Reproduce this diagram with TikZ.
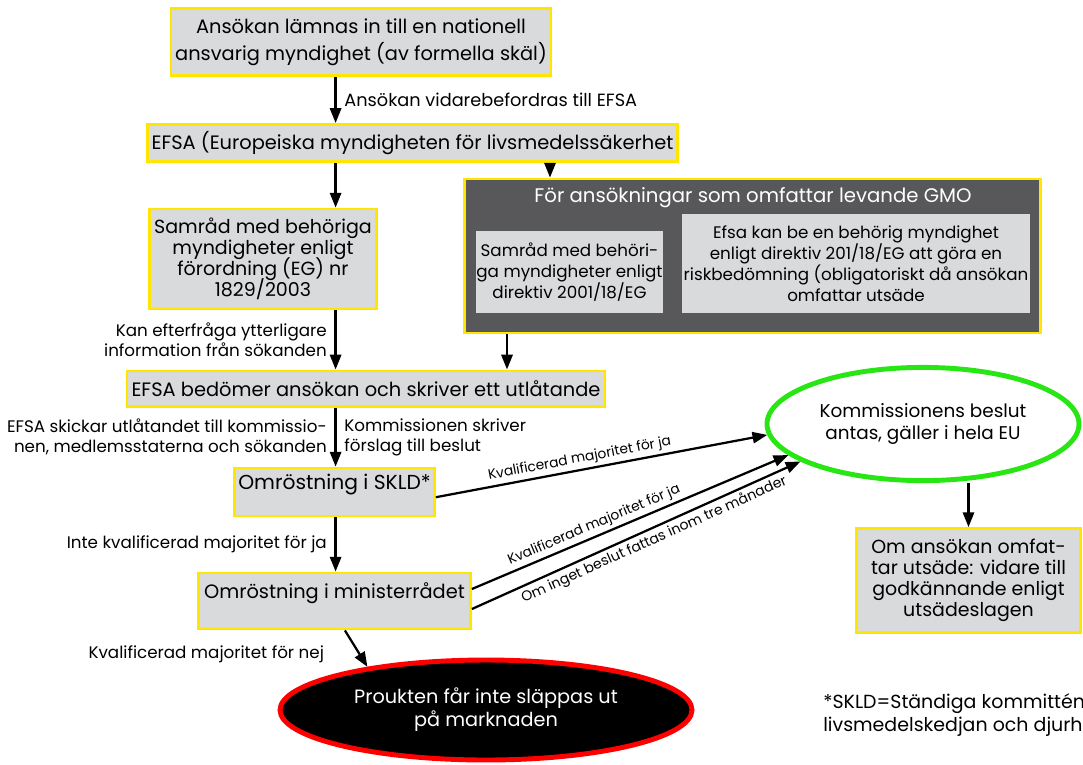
\documentclass[tikz,border=0pt]{standalone}
\usepackage{fontspec}
\setmainfont{Poppins}
\usepackage{tikz}
\usetikzlibrary{positioning, shapes.geometric, arrows.meta}
\usepackage{xcolor}
\definecolor{boxgray}{RGB}{217,218,220}
\definecolor{boxyellow}{RGB}{255,230,0}
\definecolor{gmogray}{RGB}{88,88,90}
\definecolor{okgreen}{RGB}{40,230,20}

\begin{document}
\lineskiplimit=-100pt
\begin{tikzpicture}[
        scale=1.0,
        stepbox/.style={rectangle, draw=boxyellow, line width=2pt, fill=boxgray, align=center, inner sep=0pt, font=\fontsize{13.8}{19}\selectfont},
        innerbox/.style={rectangle, fill=boxgray, align=center, inner sep=0pt, font=\fontsize{11.9}{15}\selectfont},
        outcome/.style={ellipse, line width=3.5pt, align=center, inner sep=0pt, font=\fontsize{13.7}{16.4}\selectfont},
        edge_label/.style={font=\fontsize{11.9}{14}\selectfont, inner xsep=5.5pt, inner ysep=1pt},
        vote_label/.style={font=\fontsize{9.8}{12}\selectfont, sloped, inner sep=2pt},
        flow/.style={-{Triangle[length=10.5pt, width=8pt]}, line width=1.6pt}
    ]
        \useasboundingbox (0,0) rectangle (27.075,-19.1);

        % Main column of steps
        \node[stepbox, minimum width=9.5cm, minimum height=1.68cm] (ansokan) at (9.025,-1.05) {Ansökan lämnas in till en nationell\\ansvarig myndighet (av formella skäl)};
        \node[stepbox, minimum width=13.25cm, minimum height=0.93cm] (efsa) at (10.3125,-3.575) {EFSA (Europeiska myndigheten för livsmedelssäkerhet};
        \node[stepbox, minimum width=5.68cm, minimum height=2.5cm, font=\fontsize{13.55}{15}\selectfont] (samrad) at (6.575,-6.475) {Samråd med behöriga\\myndigheter enligt\\förordning (EG) nr\\1829/2003};
        \node[stepbox, minimum width=11.95cm, minimum height=0.88cm] (efsabed) at (9.15,-9.7125) {EFSA bedömer ansökan och skriver ett utlåtande};
        \node[stepbox, minimum width=5.0cm, text height=0.525cm, text depth=0.675cm, font=\fontsize{14.4}{17}\selectfont] (skld) at (8.3625,-12.3) {Omröstning i SKLD*};
        \node[stepbox, minimum width=6.8cm, text height=0.64cm, text depth=0.76cm] (min) at (8.3625,-15.025) {Omröstning i ministerrådet};

        % Box for living GMO
        \node[rectangle, draw=boxyellow, line width=2pt, fill=gmogray, minimum width=14.4cm, minimum height=3.85cm] (gmo) at (18.8125,-6.4) {};
        \node[text=white, font=\fontsize{14}{16}\selectfont] (gmotitle) at (18.825,-4.95) {För ansökningar som omfattar levande GMO};
        \node[innerbox, minimum width=4.675cm, minimum height=2.05cm] (gmosamrad) at (14.2375,-6.8) {Samråd med behöri-\\ga myndigheter enligt\\direktiv 2001/18/EG};
        \node[innerbox, minimum width=8.7cm, minimum height=2.475cm] (gmorisk) at (21.4,-6.5875) {Efsa kan be en behörig myndighet\\enligt direktiv 201/18/EG att göra en\\riskbedömning (obligatoriskt då ansökan\\omfattar utsäde};

        % Outcomes
        \node[outcome, draw=okgreen, fill=white, minimum width=7.8cm, minimum height=2.83cm, font=\fontsize{13.1}{16}\selectfont] (kom) at (23.075,-10.6) {Kommissionens beslut\\antas, gäller i hela EU};
        \node[stepbox, minimum width=5.6cm, minimum height=2.6cm, font=\fontsize{13.5}{15}\selectfont] (utsade) at (24.2125,-14.5125) {Om ansökan omfat-\\tar utsäde: vidare till\\godkännande enligt\\utsädeslagen};
        \node[outcome, draw=red, fill=black, text=white, minimum width=10.3cm, minimum height=2.5cm] (nej) at (12.15,-17.75) {Proukten får inte släppas ut\\på marknaden};

        % Footnote
        \node[anchor=west, align=left, inner sep=0pt, font=\fontsize{13.5}{16}\selectfont] (skldnote) at (20.575,-17.875) {*SKLD=Ständiga kommittén för\\livsmedelskedjan och djurhälsa};

        % Connections with labels
        \coordinate (spine) at (8.39,0);
        \coordinate (gmoin) at (13.75,0);
        \coordinate (gmoout) at (12.675,0);
        \draw[flow] (ansokan.south -| spine) -- (efsa.north -| spine) node[edge_label, midway, right, font=\fontsize{12.6}{14}\selectfont] {Ansökan vidarebefordras till EFSA};
        \draw[flow] (efsa.south -| spine) -- (samrad.north -| spine);
        \draw[flow] (efsa.south -| gmoin) -- (gmo.north -| gmoin);
        \draw[flow] (samrad.south -| spine) -- (efsabed.north -| spine) node[edge_label, midway, left, align=right] {Kan efterfråga ytterligare\\information från sökanden};
        \draw[flow] (gmo.south -| gmoout) -- (efsabed.north -| gmoout);
        \draw[flow] (efsabed.south -| spine) -- (skld.north -| spine)
            node[edge_label, midway, left, align=right] {EFSA skickar utlåtandet till kommissio-\\nen, medlemsstaterna och sökanden}
            node[edge_label, midway, right, align=left] {Kommissionen skriver\\förslag till beslut};
        \draw[flow] (skld.south -| spine) -- (min.north -| spine) node[edge_label, midway, left] {Inte kvalificerad majoritet för ja};
        \draw[flow] ([xshift=0.26cm]min.south) -- (nej.160) node[edge_label, pos=0.65, left=0.67cm] {Kvalificerad majoritet för nej};
        \draw[flow] ([yshift=-0.13cm]skld.east) -- (kom.184) node[vote_label, pos=0.44, above] {Kvalificerad majoritet för ja};
        \draw[flow] ([yshift=0.3cm]min.east) -- (kom.193) node[vote_label, pos=0.4, above] {Kvalificerad majoritet för ja};
        \draw[flow] ([yshift=-0.2cm]min.east) -- (kom.197) node[vote_label, pos=0.54, below, font=\fontsize{10}{12}\selectfont] {Om inget beslut fattas inom tre månader};
        \draw[flow] (kom.south -| utsade.north) -- (utsade.north);

    \end{tikzpicture}
\end{document}
